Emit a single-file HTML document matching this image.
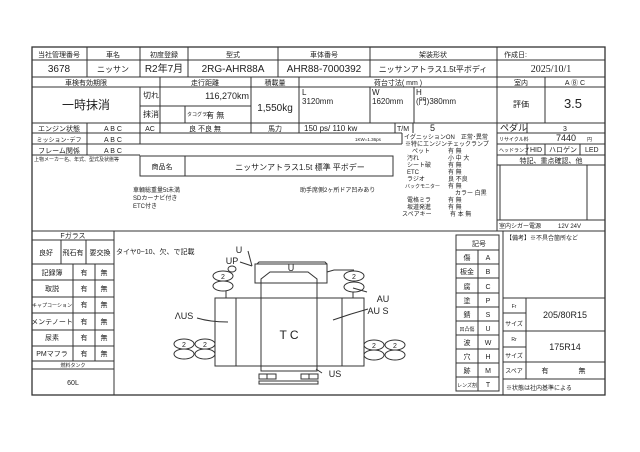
<!DOCTYPE html>
<html><head><meta charset="utf-8"><style>
html,body{margin:0;padding:0;background:#fff;}
svg{display:block;font-family:"Liberation Sans","Noto Sans CJK JP",sans-serif;}
text{fill:#222;}
</style></head><body>
<svg width="640" height="452" viewBox="0 0 640 452" xmlns="http://www.w3.org/2000/svg">
<g stroke="#333" stroke-width="1" fill="none">
<rect x="32" y="47" width="573" height="348" stroke-width="1.3"/>
<line x1="32" y1="60" x2="605" y2="60"/>
<line x1="32" y1="77" x2="605" y2="77"/>
<line x1="32" y1="87" x2="605" y2="87"/>
<line x1="32" y1="123" x2="605" y2="123"/>
<line x1="32" y1="133" x2="402" y2="133"/>
<line x1="497" y1="133" x2="605" y2="133"/>
<line x1="32" y1="144" x2="402" y2="144"/>
<line x1="497" y1="144" x2="605" y2="144"/>
<line x1="32" y1="155" x2="140" y2="155"/>
<line x1="497" y1="155" x2="605" y2="155"/>
<line x1="497" y1="165" x2="605" y2="165"/>
<line x1="497" y1="220" x2="605" y2="220"/>
<line x1="32" y1="231" x2="605" y2="231"/>
<line x1="140" y1="106" x2="251" y2="106"/>
<rect x="140" y="156" width="253" height="20"/>
<line x1="185" y1="156" x2="185" y2="176"/>
<line x1="87" y1="47" x2="87" y2="77"/><line x1="87" y1="123" x2="87" y2="155"/>
<line x1="140" y1="47" x2="140" y2="77"/><line x1="140" y1="87" x2="140" y2="144"/>
<line x1="160" y1="77" x2="160" y2="133"/>
<line x1="185" y1="106" x2="185" y2="123"/>
<line x1="188" y1="47" x2="188" y2="77"/>
<line x1="251" y1="77" x2="251" y2="133"/>
<line x1="278" y1="47" x2="278" y2="77"/>
<line x1="299" y1="77" x2="299" y2="133"/>
<line x1="370" y1="47" x2="370" y2="77"/><line x1="370" y1="87" x2="370" y2="123"/>
<line x1="414" y1="87" x2="414" y2="123"/>
<line x1="395" y1="123" x2="395" y2="133"/><line x1="413" y1="123" x2="413" y2="133"/>
<line x1="402" y1="133" x2="402" y2="144"/>
<line x1="497" y1="47" x2="497" y2="231"/>
<line x1="545" y1="77" x2="545" y2="123"/>
<line x1="527" y1="123" x2="527" y2="133"/>
<line x1="527" y1="144" x2="527" y2="155"/><line x1="545" y1="144" x2="545" y2="155"/><line x1="580" y1="144" x2="580" y2="155"/>
<line x1="500" y1="165" x2="500" y2="220"/><line x1="587" y1="165" x2="587" y2="220"/>
<line x1="114" y1="231" x2="114" y2="395"/>
<line x1="32" y1="240" x2="114" y2="240"/>
<line x1="32" y1="264" x2="114" y2="264"/>
<line x1="32" y1="280" x2="114" y2="280"/>
<line x1="32" y1="297" x2="114" y2="297"/>
<line x1="32" y1="313" x2="114" y2="313"/>
<line x1="32" y1="330" x2="114" y2="330"/>
<line x1="32" y1="346" x2="114" y2="346"/>
<line x1="32" y1="361" x2="114" y2="361"/>
<line x1="32" y1="369" x2="114" y2="369"/>
<line x1="61" y1="240" x2="61" y2="264"/><line x1="86" y1="240" x2="86" y2="264"/>
<line x1="73" y1="264" x2="73" y2="361"/><line x1="95" y1="264" x2="95" y2="361"/>
<rect x="456" y="235" width="43" height="156"/>
<line x1="478" y1="250" x2="478" y2="391"/>
<line x1="456" y1="250" x2="499" y2="250"/><line x1="456" y1="264" x2="499" y2="264"/>
<line x1="456" y1="278" x2="499" y2="278"/><line x1="456" y1="293" x2="499" y2="293"/>
<line x1="456" y1="307" x2="499" y2="307"/><line x1="456" y1="321" x2="499" y2="321"/>
<line x1="456" y1="335" x2="499" y2="335"/><line x1="456" y1="349" x2="499" y2="349"/>
<line x1="456" y1="363" x2="499" y2="363"/><line x1="456" y1="377" x2="499" y2="377"/>
<line x1="503" y1="231" x2="503" y2="395"/>
<line x1="503" y1="298" x2="605" y2="298"/><line x1="503" y1="331" x2="605" y2="331"/>
<line x1="503" y1="362" x2="605" y2="362"/><line x1="503" y1="379" x2="605" y2="379"/>
<line x1="526" y1="298" x2="526" y2="379"/>
<line x1="503" y1="313" x2="526" y2="313"/><line x1="503" y1="347" x2="526" y2="347"/>
<rect x="215" y="298" width="149" height="68"/>
<line x1="236" y1="298" x2="236" y2="366"/><line x1="342" y1="298" x2="342" y2="366"/>
<rect x="261" y="283" width="56" height="88"/>
<rect x="255" y="264" width="72" height="19"/>
<path d="M257 264 L259 262 L325 262 L327 264"/>
<path d="M261 283 L261 279 L270 272 L308 272 L317 279 L317 283"/>
<rect x="259" y="374" width="17" height="5"/><line x1="267" y1="374" x2="267" y2="379"/>
<rect x="301" y="374" width="17" height="5"/><line x1="309" y1="374" x2="309" y2="379"/>
<rect x="259" y="381" width="59" height="3"/>
<ellipse cx="223" cy="276" rx="10" ry="5"/><ellipse cx="223" cy="286" rx="10" ry="5"/>
<line x1="226" y1="291" x2="226" y2="298"/>
<ellipse cx="354" cy="276" rx="10" ry="5"/><ellipse cx="354" cy="287" rx="10" ry="5"/>
<line x1="353" y1="292" x2="353" y2="298"/><path d="M327 272 L334 270 L354 270"/>
<ellipse cx="184" cy="344" rx="10" ry="5"/><ellipse cx="184" cy="354" rx="10" ry="5"/>
<ellipse cx="205" cy="344" rx="10" ry="5"/><ellipse cx="205" cy="354" rx="10" ry="5"/>
<ellipse cx="374" cy="345" rx="10" ry="5"/><ellipse cx="374" cy="355" rx="10" ry="5"/>
<ellipse cx="395" cy="345" rx="10" ry="5"/><ellipse cx="395" cy="355" rx="10" ry="5"/>
<path d="M197 318 Q210 322 228 322"/>
<path d="M333 320 Q350 314 368 309"/>
<path d="M353 288 L367 292"/>
<path d="M316 369 L322 373"/>
<path d="M248 251 L252 266"/><path d="M240 262 L252 266"/>
<ellipse cx="232" cy="269" rx="4" ry="3"/>
</g>
<g font-size="7" text-anchor="middle">
<text x="59" y="57">当社管理番号</text><text x="113" y="57">車名</text><text x="164" y="57">初度登録</text>
<text x="233" y="57">型式</text><text x="324" y="57">車体番号</text><text x="433" y="57">架装形状</text>
<text x="86" y="85">車検有効期限</text><text x="205" y="85">走行距離</text><text x="275" y="85">積載量</text>
<text x="398" y="85">荷台寸法( mm )</text><text x="521" y="85">室内</text><text x="575" y="85">A Ⓑ C</text>
<text x="59" y="131">エンジン状態</text><text x="113" y="131">A B C</text><text x="150" y="131">AC</text>
<text x="205" y="131">良  不良  無</text><text x="275" y="131">馬力</text>
<text x="59" y="142" font-size="6">ミッション･デフ</text><text x="113" y="142">A B C</text>
<text x="59" y="153">フレーム関係</text><text x="113" y="153">A B C</text>
<text x="162" y="169">商品名</text>
<text x="551" y="163">特記、重点確認、他</text>
<text x="479" y="246">記号</text>
</g>
<g font-size="10" text-anchor="middle">
<text x="59" y="72">3678</text><text x="113" y="72" font-size="8">ニッサン</text><text x="164" y="72">R2年7月</text>
<text x="233" y="72">2RG-AHR88A</text><text x="324" y="72">AHR88-7000392</text>
<text x="433" y="72" font-size="8">ニッサンアトラス1.5t平ボディ</text><text x="551" y="72" font-family="Liberation Serif">2025/10/1</text>
<text x="86" y="109" font-size="12">一時抹消</text>
<text x="521" y="107" font-size="8">評価</text>
<text x="573" y="108" font-size="13" fill="#444">3.5</text>
<text x="275" y="111">1,550kg</text>
<text x="300" y="170" font-size="8">ニッサンアトラス1.5t 標準 平ボデー</text>
</g>
<g font-size="7">
<text x="504" y="57">作成日:</text>
<text x="143" y="98" font-size="8">切れ</text><text x="143" y="117" font-size="8">抹消</text>
<text x="249" y="99" text-anchor="end" font-size="9">116,270km</text>
<text x="187" y="116" font-size="5">タコグラフ</text><text x="206" y="118" font-size="8">有  無</text>
<text x="302" y="95" font-size="8">L</text><text x="302" y="104" font-size="8">3120mm</text>
<text x="372" y="95" font-size="8">W</text><text x="372" y="104" font-size="8">1620mm</text>
<text x="416" y="95" font-size="8">H</text><text x="416" y="104" font-size="8">(門)380mm</text>
<text x="304" y="131" font-size="8">150  ps/  110 kw</text><text x="397" y="131">T/M</text><text x="430" y="131" font-size="9">5</text>
<text x="500" y="131" font-size="9">ペダル</text><text x="563" y="131">3</text>
<text x="355" y="141" font-size="4.5">1KW=1.36ps</text>
<text x="499" y="141" font-size="5">リサイクル料</text><text x="556" y="141" font-size="9">7440</text><text x="587" y="141" font-size="5">円</text>
<text x="499" y="152" font-size="5">ヘッドランプ</text><text x="530" y="152">HID</text><text x="549" y="152">ハロゲン</text><text x="585" y="152">LED</text>
<text x="34" y="161" font-size="5">上物メーカー名、年式、型式及状態等</text>
<text x="133" y="192" font-size="6">車輌総重量5t未満</text><text x="133" y="200" font-size="6">SDカーナビ付き</text><text x="133" y="208" font-size="6">ETC付き</text>
<text x="300" y="192" font-size="6">助手席側2ヶ所ドア凹みあり</text>
<g font-size="6">
<text x="404" y="139">イグニッションON　正常･異常</text>
<text x="405" y="146">※特にエンジンチェックランプ</text>
<text x="412" y="153">ペット</text><text x="448" y="153">有  無</text>
<text x="407" y="160">汚れ</text><text x="448" y="160">小 中 大</text>
<text x="407" y="167">シート破</text><text x="448" y="167">有    無</text>
<text x="407" y="174">ETC</text><text x="448" y="174">有    無</text>
<text x="407" y="181">ラジオ</text><text x="448" y="181">良  不良</text>
<text x="405" y="188" font-size="5">バックモニター</text><text x="448" y="188">有    無</text>
<text x="455" y="195">カラー 白黒</text>
<text x="407" y="202">電格ミラ</text><text x="448" y="202">有    無</text>
<text x="407" y="209">坂道発進</text><text x="448" y="209">有    無</text>
<text x="402" y="216">スペアキー</text><text x="450" y="216">有  本  無</text>
</g>
<text x="499" y="228" font-size="6">室内シガー電源</text><text x="558" y="228" font-size="6">12V  24V</text>
<text x="506" y="240" font-size="6">【備考】※不具合箇所など</text>
<text x="506" y="390" font-size="6">※状態は社内基準による</text>
</g>
<g font-size="7" text-anchor="middle">
<text x="73" y="238">Fガラス</text><text x="46" y="255">良好</text><text x="73" y="255">飛石有</text><text x="100" y="255">要交換</text>
<text x="52" y="275">記録簿</text><text x="84" y="275">有</text><text x="104" y="275">無</text>
<text x="52" y="291">取説</text><text x="84" y="291">有</text><text x="104" y="291">無</text>
<text x="52" y="307" font-size="5">キャプコーション</text><text x="84" y="307">有</text><text x="104" y="307">無</text>
<text x="52" y="324">メンテノート</text><text x="84" y="324">有</text><text x="104" y="324">無</text>
<text x="52" y="340">尿素</text><text x="84" y="340">有</text><text x="104" y="340">無</text>
<text x="52" y="356">PMマフラ</text><text x="84" y="356">有</text><text x="104" y="356">無</text>
<text x="73" y="367" font-size="5">燃料タンク</text><text x="73" y="385">60L</text>
<text x="467" y="260">傷</text><text x="488" y="260">A</text>
<text x="467" y="274">板金</text><text x="488" y="274">B</text>
<text x="467" y="289">腐</text><text x="488" y="289">C</text>
<text x="467" y="303">塗</text><text x="488" y="303">P</text>
<text x="467" y="317">錆</text><text x="488" y="317">S</text>
<text x="467" y="331" font-size="5">凹凸傷</text><text x="488" y="331">U</text>
<text x="467" y="345">波</text><text x="488" y="345">W</text>
<text x="467" y="359">穴</text><text x="488" y="359">H</text>
<text x="467" y="373">跡</text><text x="488" y="373">M</text>
<text x="467" y="387" font-size="5">レンズ割</text><text x="488" y="387">T</text>
<text x="514" y="308" font-size="5">Fr</text><text x="514" y="326" font-size="6">サイズ</text>
<text x="514" y="341" font-size="5">Rr</text><text x="514" y="358" font-size="6">サイズ</text>
<text x="514" y="373" font-size="6">スペア</text>
<text x="565" y="318" font-size="9">205/80R15</text><text x="565" y="350" font-size="9">175R14</text>
<text x="545" y="373">有</text><text x="582" y="373">無</text>
</g>
<g font-size="7">
<text x="116" y="254">タイヤ0~10、欠、で記載</text>
</g>
<g font-size="9" fill="#444" text-anchor="middle">
<text x="289" y="339" font-size="12">T C</text>
<text x="184" y="319">ΛUS</text><text x="383" y="302">AU</text><text x="378" y="314">AU S</text>
<text x="335" y="377">US</text><text x="291" y="271">U</text>
<text x="239" y="253">U</text><text x="232" y="264">UP</text>
<text x="223" y="279" font-size="7">2</text><text x="354" y="279" font-size="7">2</text>
<text x="184" y="347" font-size="7">2</text><text x="205" y="347" font-size="7">2</text>
<text x="374" y="348" font-size="7">2</text><text x="395" y="348" font-size="7">2</text>
</g>
</svg>
</body></html>
